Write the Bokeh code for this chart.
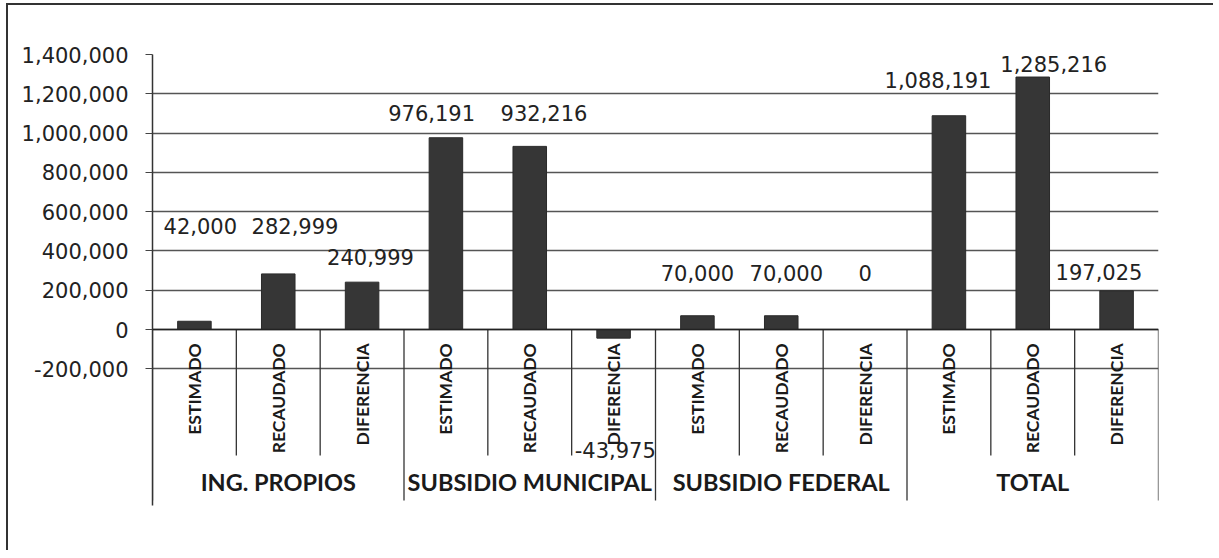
from bokeh.plotting import figure
from bokeh.layouts import column, row
from bokeh.models import ColumnDataSource, FixedTicker, NumeralTickFormatter, Span, Range1d, Div
from bokeh.core.properties import value
from bokeh.embed import file_html
from bokeh.resources import INLINE
import math

# ---- data ----
groups = ["ING. PROPIOS", "SUBSIDIO MUNICIPAL", "SUBSIDIO FEDERAL", "TOTAL"]
subcats = ["ESTIMADO", "RECAUDADO", "DIFERENCIA"]
ing_propios = [42000, 282999, 240999]
subsidio_municipal = [976191, 932216, -43975]
subsidio_federal = [70000, 70000, 0]
total = [1088191, 1285216, 197025]
y_ticks = [-200000, 0, 200000, 400000, 600000, 800000, 1000000, 1200000, 1400000]

# ---- layout of data labels (manually placed in the original) ----
label_y = [529000, 529000, 367000, 1100000, 1100000, -611000, 290000, 290000, 290000, 1268000, 1354000, 295000]
label_dx = [0.07, 0.2, 0.1, -0.17, 0.17, 0.02, 0.0, 0.06, 0.0, -0.13, 0.25, -0.21]

values = ing_propios + subsidio_municipal + subsidio_federal + total
n = len(values)
xs = [i + 0.5 for i in range(n)]
cats = subcats * len(groups)

Y_MIN = -896000
Y_MAX = 1400000

p = figure(width=1205, height=545, output_backend="svg", toolbar_location=None,
           x_range=Range1d(0, n), y_range=Range1d(Y_MIN, Y_MAX),
           min_border_left=144, min_border_right=55, min_border_top=49, min_border_bottom=45,
           margin=0)
p.outline_line_color = None
p.background_fill_color = "white"
p.border_fill_color = "white"

# axes
p.xaxis.visible = False
p.xgrid.visible = False
p.yaxis.ticker = FixedTicker(ticks=y_ticks)
p.ygrid.ticker = FixedTicker(ticks=y_ticks)
p.yaxis.formatter = NumeralTickFormatter(format="0,0")
p.yaxis.major_label_text_font = "DejaVu Sans"
p.yaxis.major_label_text_font_size = "21px"
p.yaxis.major_label_text_color = "#222222"
p.yaxis.major_tick_out = 7
p.yaxis.major_tick_in = 0
p.yaxis.minor_tick_out = 0
p.yaxis.minor_tick_in = 0
p.yaxis.major_label_standoff = 17
p.yaxis.axis_line_color = "#333333"
p.yaxis.axis_line_width = 1.5
p.yaxis.major_tick_line_color = "#444444"
p.ygrid.grid_line_color = "#555555"
p.ygrid.grid_line_width = 1.3

# bars
src = ColumnDataSource(dict(x=xs, top=values, cat=cats))
p.vbar(x="x", top="top", bottom=0, width=0.4, source=src,
       fill_color="#363636", line_color="#2a2a2a")

# zero (category) axis line
p.add_layout(Span(location=0, dimension="width", line_color="#222222", line_width=1.5))

# category separators
sub_bottom = -641000
grp_bottom = -871000
sx, sy0, sy1 = [], [], []
for b in range(n + 1):
    sx.append(b)
    sy0.append(0)
    sy1.append(grp_bottom if b % 3 == 0 else sub_bottom)
p.segment(x0=sx, y0=sy0, x1=sx, y1=sy1, line_color="#333333", line_width=1.3)

# subcategory labels (rotated)
p.text(x=xs, y=[-70000] * n, text=cats, angle=math.pi / 2,
       text_align="right", text_baseline="middle",
       text_font=value("Lato"), text_font_style="bold",
       text_font_size="17.5px", text_color="#1a1a1a")

# group labels
gx = [3 * g + 1.5 for g in range(len(groups))]
p.text(x=gx, y=[-774000] * len(groups), text=groups,
       text_align="center", text_baseline="middle",
       text_font=value("Lato"), text_font_style="bold",
       text_font_size="23.5px", text_color="#1a1a1a")

# data labels
p.text(x=[x + d for x, d in zip(xs, label_dx)], y=label_y,
       text=[f"{v:,}" for v in values],
       text_align="center", text_baseline="middle",
       text_font=value("DejaVu Sans"), text_font_size="21px", text_color="#222222")

# outer chart frame: top and left edges
top_edge = Div(text="", width=1207, height=2, margin=(3, 0, 0, 6),
               styles={"background-color": "#333333"})
left_edge = Div(text="", width=2, height=545, margin=(0, 0, 0, 6),
                styles={"background-color": "#333333"})
layout = column(top_edge, row(left_edge, p, spacing=0), spacing=0)

open("out.html", "w").write(file_html(layout, INLINE))
